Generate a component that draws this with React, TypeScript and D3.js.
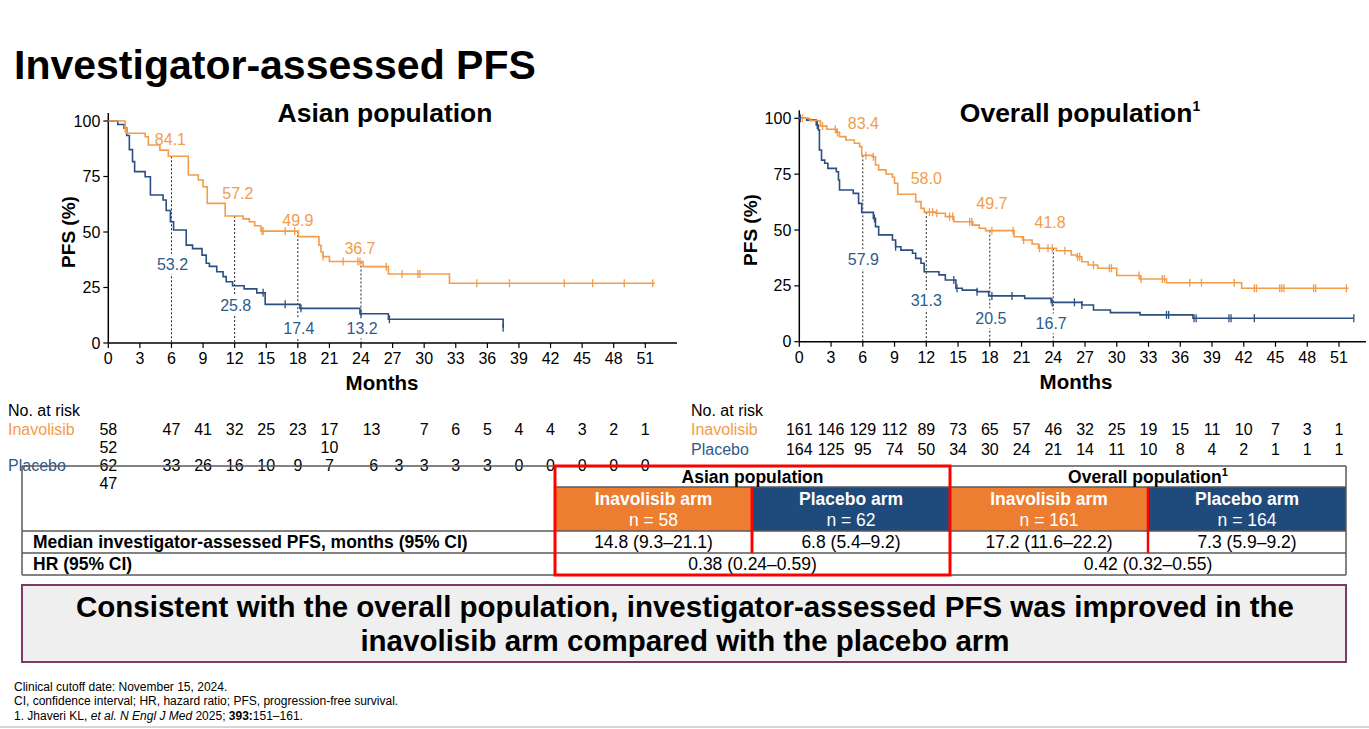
import React from "react";
import * as d3 from "d3";

const FONT = "'Liberation Sans', Arial, Helvetica, sans-serif";
const ORANGE = "#F29C4C";
const BLUE = "#2A4F80";
const BLUE_TXT = "#2F5A8C";
const CELL_ORANGE = "#ED7D31";
const CELL_BLUE = "#1F4A7C";
const RED = "#FF0000";
const GRID = "#5A5A5A";

// ---------- axis ticks ----------
const monthTicks = [0, 3, 6, 9, 12, 15, 18, 21, 24, 27, 30, 33, 36, 39, 42, 45, 48, 51];
const pfsTicks = [0, 25, 50, 75, 100];
const medianTimes = [6, 12, 18, 24];

// ---------- Asian population KM (time in months, PFS %) ----------
const asianInavSteps: [number, number][] = [
  [0, 100], [1.6, 96.6], [1.7, 94.5], [3.5, 92.9], [3.8, 89.2], [4.9, 86.9], [5.7, 84.1],
  [7.6, 75.7], [8.55, 73.4], [9.0, 70.4], [9.4, 62.9], [11.1, 57.2], [12.8, 55.9], [13.4, 54.6],
  [13.9, 52.8], [14.5, 50.4], [18.05, 47.9], [20.0, 44.0], [20.2, 41.0], [20.4, 38.9], [21.0, 36.7],
  [24.2, 34.4], [26.6, 31.1], [32.4, 26.9],
];
const asianInavEnd = 51.9;
const asianInavCensor = [1.6, 14.6, 14.7, 16.8, 17.7, 20.4, 22.3, 23.7, 23.9, 26.4, 27.9, 29.4, 29.6, 35.0, 38.1, 43.3, 46.0, 49.0, 51.7];

const asianPboSteps: [number, number][] = [
  [0, 100], [0.9, 98.4], [1.5, 96.8], [1.75, 93.5], [2.0, 87.1], [2.3, 81.7], [2.5, 77.2], [3.5, 74.9],
  [4.0, 66.7], [5.2, 64.4], [5.5, 59.7], [5.9, 54.6], [6.2, 50.9], [7.4, 44.1], [8.0, 42.5], [8.9, 39.6],
  [9.3, 35.9], [9.6, 34.5], [10.3, 32.1], [10.9, 29.9], [11.2, 27.6], [11.8, 25.8], [12.9, 24.4],
  [14.1, 22.6], [14.9, 17.4], [18.2, 15.6], [23.9, 13.2], [26.6, 10.7], [37.5, 6.9],
];
const asianPboEnd = 37.5;
const asianPboCensor = [14.7, 16.8, 18.3, 24.0, 26.7, 37.5];

// ---------- Overall population KM ----------
const overallInavSteps: [number, number][] = [
  [0, 100], [1.0, 98.9], [2.0, 96.5], [2.6, 95.1], [3.5, 93.7], [3.8, 91.8], [4.4, 90.3], [5.2, 88.8],
  [5.7, 87.3], [5.9, 83.4], [6.9, 82.8], [7.2, 79.1], [7.5, 76.9], [8.2, 75.1], [8.8, 73.6], [9.0, 70.9],
  [9.3, 66.0], [11.0, 62.7], [11.5, 59.7], [11.8, 58.0], [12.9, 57.5], [13.8, 56.0], [14.6, 53.7],
  [16.4, 52.2], [17.0, 50.8], [17.6, 49.7], [20.3, 47.0], [21.1, 45.5], [22.0, 43.7], [22.6, 41.8],
  [24.3, 40.7], [25.7, 38.8], [26.2, 38.0], [26.7, 35.8], [27.3, 34.3], [28.2, 32.9], [30.0, 29.6],
  [32.2, 28.1], [34.7, 26.4], [41.8, 23.9],
];
const overallInavEnd = 51.9;
const overallInavCensor = [0.3, 2.2, 3.4, 3.6, 6.3, 7.0, 12.3, 12.6, 13.0, 14.2, 14.5, 16.1, 16.3, 18.2, 20.2,
  21.2, 22.7, 23.5, 23.9, 25.1, 26.3, 26.5, 27.8, 29.3, 29.5, 32.1, 32.3, 34.3, 34.5, 36.9, 38.0, 41.1,
  43.0, 43.2, 45.4, 45.6, 45.8, 48.6, 48.8, 51.7];

const overallPboSteps: [number, number][] = [
  [0, 100], [0.7, 99.2], [1.6, 97.0], [1.8, 94.8], [1.9, 85.8], [2.1, 81.3], [2.4, 79.9], [2.7, 77.6],
  [3.5, 76.1], [3.7, 72.4], [3.8, 67.9], [5.1, 66.4], [5.6, 61.9], [5.9, 57.9], [7.0, 55.2], [7.2, 51.5],
  [7.5, 47.8], [8.8, 45.5], [9.1, 42.5], [9.6, 41.0], [10.7, 39.6], [11.0, 37.3], [11.5, 35.1],
  [11.8, 31.3], [13.2, 29.9], [13.8, 27.6], [14.8, 23.9], [15.4, 23.1], [16.8, 22.4], [17.9, 20.5],
  [21.3, 19.4], [23.8, 17.6], [26.7, 16.4], [27.8, 14.2], [29.4, 13.0], [32.2, 12.0], [37.2, 10.5],
];
const overallPboEnd = 52.4;
const overallPboCensor = [0.1, 1.7, 7.1, 9.1, 14.6, 14.9, 16.8, 18.2, 20.1, 23.9, 26.0, 26.7, 34.7, 34.9,
  37.3, 37.5, 40.6, 40.8, 43.0, 52.4];

// ---------- landmark labels: [text, month, pfs position] ----------
const asianInavLabels: [string, number, number][] = [["84.1", 5.9, 91.7], ["57.2", 12.3, 67.5], ["49.9", 18.0, 55.4], ["36.7", 23.9, 42.7]];
const asianPboLabels: [string, number, number][] = [["53.2", 6.1, 35.6], ["25.8", 12.1, 17.1], ["17.4", 18.1, 6.6], ["13.2", 24.1, 6.6]];
const overallInavLabels: [string, number, number][] = [["83.4", 6.05, 97.8], ["58.0", 12.0, 73.1], ["49.7", 18.2, 62.0], ["41.8", 23.7, 53.2]];
const overallPboLabels: [string, number, number][] = [["57.9", 6.05, 36.9], ["31.3", 12.0, 18.7], ["20.5", 18.1, 10.5], ["16.7", 23.8, 8.2]];

// ---------- numbers at risk ----------
const asianRiskInavTimes = [0, 6, 9, 12, 15, 18, 21, 25, 30, 33, 36, 39, 42, 45, 48, 51];
const asianRiskInav = ["58", "47", "41", "32", "25", "23", "17", "13", "7", "6", "5", "4", "4", "3", "2", "1"];
const asianRiskInavExtraTimes = [0, 21];
const asianRiskInavExtra = ["52", "10"];
const asianRiskPboTimes = [0, 6, 9, 12, 15, 18, 21, 25.2, 27.6, 30, 33, 36, 39, 42, 45, 48, 51];
const asianRiskPbo = ["62", "33", "26", "16", "10", "9", "7", "6", "3", "3", "3", "3", "0", "0", "0", "0", "0"];
const asianRiskPboExtraTimes = [0];
const asianRiskPboExtra = ["47"];
const overallRiskInav = ["161", "146", "129", "112", "89", "73", "65", "57", "46", "32", "25", "19", "15", "11", "10", "7", "3", "1"];
const overallRiskPbo = ["164", "125", "95", "74", "50", "34", "30", "24", "21", "14", "11", "10", "8", "4", "2", "1", "1", "1"];

// ---------- table ----------
const popHeaders = ["Asian population", "Overall population"];
const armNames = ["Inavolisib arm", "Placebo arm", "Inavolisib arm", "Placebo arm"];
const armN = ["n = 58", "n = 62", "n = 161", "n = 164"];
const medianPFS = ["14.8 (9.3–21.1)", "6.8 (5.4–9.2)", "17.2 (11.6–22.2)", "7.3 (5.9–9.2)"];
const hrValues = ["0.38 (0.24–0.59)", "0.42 (0.32–0.55)"];

function survAt(steps: [number, number][], t: number) {
  let v = steps[0][1];
  for (const [st, sv] of steps) {
    if (st <= t) v = sv;
    else break;
  }
  return v;
}

type KMProps = {
  title: React.ReactNode;
  titleX: number;
  xRange: [number, number];
  axisEnd: number;
  yRange: [number, number];
  yLabelX: number;
  monthsX: number;
  inav: [number, number][];
  inavEnd: number;
  inavCensor: number[];
  pbo: [number, number][];
  pboEnd: number;
  pboCensor: number[];
  inavLabels: [string, number, number][];
  pboLabels: [string, number, number][];
};

function KM(p: KMProps) {
  const x = d3.scaleLinear().domain([0, 51]).range(p.xRange);
  const y = d3.scaleLinear().domain([0, 100]).range(p.yRange);
  const line = d3
    .line<[number, number]>()
    .x((d) => x(d[0]))
    .y((d) => y(d[1]))
    .curve(d3.curveStepAfter);
  const inavPts = [...p.inav, [p.inavEnd, p.inav[p.inav.length - 1][1]] as [number, number]];
  const pboPts = [...p.pbo, [p.pboEnd, p.pbo[p.pbo.length - 1][1]] as [number, number]];
  const x0 = p.xRange[0];
  const yb = y(0);
  const midY = (y(0) + y(100)) / 2;
  return (
    <g>
      <text x={p.titleX} y={122} textAnchor="middle" fontSize={26.5} fontWeight="bold" fontFamily={FONT}>
        {p.title}
      </text>
      {medianTimes.map((t) => (
        <line key={"d" + t} x1={x(t)} x2={x(t)} y1={y(survAt(p.inav, t))} y2={yb} stroke="#222" strokeWidth={1} strokeDasharray="2,2" />
      ))}
      {p.pboLabels.map(([s, t, v]) => (
        <rect key={"bg" + s} x={x(t) - 18} y={y(v) - 10} width={36} height={20} fill="#fff" />
      ))}
      <line x1={x0} x2={x0} y1={y(100) - 8} y2={yb} stroke="#000" strokeWidth={1.5} />
      <line x1={x0} x2={p.axisEnd} y1={yb} y2={yb} stroke="#000" strokeWidth={1.5} />
      {pfsTicks.map((v) => (
        <g key={"yt" + v}>
          <line x1={x0 - 5} x2={x0} y1={y(v)} y2={y(v)} stroke="#000" strokeWidth={1.2} />
          <text x={x0 - 8} y={y(v)} dy="0.35em" textAnchor="end" fontSize={16} fontFamily={FONT}>
            {v}
          </text>
        </g>
      ))}
      {monthTicks.map((m) => (
        <g key={"xt" + m}>
          <line x1={x(m)} x2={x(m)} y1={yb} y2={yb + 5} stroke="#000" strokeWidth={1.2} />
          <text x={x(m)} y={yb + 21} textAnchor="middle" fontSize={16} fontFamily={FONT}>
            {m}
          </text>
        </g>
      ))}
      <text
        transform={`translate(${p.yLabelX},${midY}) rotate(-90)`}
        textAnchor="middle"
        dy="0.35em"
        fontSize={19}
        fontWeight="bold"
        fontFamily={FONT}
      >
        PFS (%)
      </text>
      <text x={p.monthsX} y={yb + 47} textAnchor="middle" fontSize={20.5} fontWeight="bold" fontFamily={FONT}>
        Months
      </text>
      <path d={line(pboPts) || ""} fill="none" stroke={BLUE} strokeWidth={1.6} />
      <path d={line(inavPts) || ""} fill="none" stroke={ORANGE} strokeWidth={1.6} />
      {p.pboCensor.map((t, i) => (
        <line key={"pc" + i} x1={x(t)} x2={x(t)} y1={y(survAt(p.pbo, t)) - 4} y2={y(survAt(p.pbo, t)) + 4} stroke={BLUE} strokeWidth={1.3} />
      ))}
      {p.inavCensor.map((t, i) => (
        <line key={"ic" + i} x1={x(t)} x2={x(t)} y1={y(survAt(p.inav, t)) - 4} y2={y(survAt(p.inav, t)) + 4} stroke={ORANGE} strokeWidth={1.3} />
      ))}
      {p.inavLabels.map(([s, t, v]) => (
        <text key={"il" + s} x={x(t)} y={y(v)} dy="0.35em" textAnchor="middle" fontSize={16} fill={ORANGE} fontFamily={FONT}>
          {s}
        </text>
      ))}
      {p.pboLabels.map(([s, t, v]) => (
        <text key={"pl" + s} x={x(t)} y={y(v)} dy="0.35em" textAnchor="middle" fontSize={16} fill={BLUE_TXT} fontFamily={FONT}>
          {s}
        </text>
      ))}
    </g>
  );
}

export default function App() {
  const xL = d3.scaleLinear().domain([0, 51]).range([108.3, 645.3]);
  const xR = d3.scaleLinear().domain([0, 51]).range([799.3, 1339]);

  const tL = 22, tR = 1346, c1 = 555, c2 = 752, c3 = 950, c4 = 1148;
  const r0 = 466, r1 = 487, r2 = 531, r3 = 553, r4 = 575;
  const armCols: [number, number][] = [[c1, c2], [c2, c3], [c3, c4], [c4, tR]];
  const popCols: [number, number][] = [[c1, c3], [c3, tR]];
  const TF = 17.5;

  return (
    <svg width={1369} height={729} style={{ position: "absolute", left: 0, top: 0, background: "#fff" }} fontFamily={FONT}>
      <rect x={0} y={0} width={1369} height={729} fill="#fff" />
      <text x={14} y={79} fontSize={41} fontWeight="bold">
        Investigator-assessed PFS
      </text>

      <KM
        title="Asian population"
        titleX={385}
        xRange={[108.3, 645.3]}
        axisEnd={677}
        yRange={[343, 121]}
        yLabelX={68}
        monthsX={382}
        inav={asianInavSteps}
        inavEnd={asianInavEnd}
        inavCensor={asianInavCensor}
        pbo={asianPboSteps}
        pboEnd={asianPboEnd}
        pboCensor={asianPboCensor}
        inavLabels={asianInavLabels}
        pboLabels={asianPboLabels}
      />
      <KM
        title={
          <>
            Overall population
            <tspan fontSize={14} dy={-11}>1</tspan>
          </>
        }
        titleX={1080}
        xRange={[799.3, 1339]}
        axisEnd={1366}
        yRange={[341.7, 118.3]}
        yLabelX={750}
        monthsX={1076}
        inav={overallInavSteps}
        inavEnd={overallInavEnd}
        inavCensor={overallInavCensor}
        pbo={overallPboSteps}
        pboEnd={overallPboEnd}
        pboCensor={overallPboCensor}
        inavLabels={overallInavLabels}
        pboLabels={overallPboLabels}
      />

      {/* numbers at risk */}
      <g fontSize={16}>
        <text x={8} y={416}>No. at risk</text>
        <text x={8} y={435} fill={ORANGE}>Inavolisib</text>
        <text x={8} y={471} fill={BLUE_TXT}>Placebo</text>
        {asianRiskInav.map((v, i) => (
          <text key={"ari" + i} x={xL(asianRiskInavTimes[i])} y={435} textAnchor="middle">{v}</text>
        ))}
        {asianRiskInavExtra.map((v, i) => (
          <text key={"arie" + i} x={xL(asianRiskInavExtraTimes[i])} y={453} textAnchor="middle">{v}</text>
        ))}
        {asianRiskPbo.map((v, i) => (
          <text key={"arp" + i} x={xL(asianRiskPboTimes[i])} y={471} textAnchor="middle">{v}</text>
        ))}
        {asianRiskPboExtra.map((v, i) => (
          <text key={"arpe" + i} x={xL(asianRiskPboExtraTimes[i])} y={489} textAnchor="middle">{v}</text>
        ))}
        <text x={691} y={416}>No. at risk</text>
        <text x={691} y={435} fill={ORANGE}>Inavolisib</text>
        <text x={691} y={455} fill={BLUE_TXT}>Placebo</text>
        {overallRiskInav.map((v, i) => (
          <text key={"ori" + i} x={xR(monthTicks[i])} y={435} textAnchor="middle">{v}</text>
        ))}
        {overallRiskPbo.map((v, i) => (
          <text key={"orp" + i} x={xR(monthTicks[i])} y={455} textAnchor="middle">{v}</text>
        ))}
      </g>

      {/* summary table */}
      <g>
        {armCols.map(([a, b], i) => (
          <rect key={"cell" + i} x={a} y={r1} width={b - a} height={r2 - r1} fill={i % 2 === 0 ? CELL_ORANGE : CELL_BLUE} />
        ))}
        <g stroke={GRID} strokeWidth={1.5}>
          <line x1={tL} x2={tR} y1={r0} y2={r0} />
          <line x1={c1} x2={tR} y1={r1} y2={r1} />
          <line x1={tL} x2={tR} y1={r2} y2={r2} />
          <line x1={tL} x2={tR} y1={r3} y2={r3} />
          <line x1={tL} x2={tR} y1={r4} y2={r4} />
          <line x1={tL} x2={tL} y1={r0} y2={r4} />
          <line x1={tR} x2={tR} y1={r0} y2={r4} />
          <line x1={c1} x2={c1} y1={r0} y2={r4} />
          <line x1={c3} x2={c3} y1={r0} y2={r4} />
        </g>
        <line x1={c4} x2={c4} y1={r1} y2={r3} stroke={RED} strokeWidth={2.5} />
        <line x1={c2} x2={c2} y1={r1} y2={r3} stroke={RED} strokeWidth={3} />
        {popCols.map(([a, b], i) => (
          <text key={"pop" + i} x={(a + b) / 2} y={r0 + 17} textAnchor="middle" fontSize={TF} fontWeight="bold">
            {popHeaders[i]}
            {i === 1 ? <tspan fontSize={11} dy={-7}>1</tspan> : null}
          </text>
        ))}
        {armCols.map(([a, b], i) => (
          <g key={"arm" + i}>
            <text x={(a + b) / 2} y={r1 + 18} textAnchor="middle" fontSize={TF} fontWeight="bold" fill="#fff">
              {armNames[i]}
            </text>
            <text x={(a + b) / 2} y={r1 + 39} textAnchor="middle" fontSize={TF} fill="#fff">
              {armN[i]}
            </text>
            <text x={(a + b) / 2} y={r2 + 17} textAnchor="middle" fontSize={TF}>
              {medianPFS[i]}
            </text>
          </g>
        ))}
        {popCols.map(([a, b], i) => (
          <text key={"hr" + i} x={(a + b) / 2} y={r3 + 17} textAnchor="middle" fontSize={TF}>
            {hrValues[i]}
          </text>
        ))}
        <text x={33} y={r2 + 17} fontSize={TF} fontWeight="bold">
          Median investigator-assessed PFS, months (95% CI)
        </text>
        <text x={33} y={r3 + 17} fontSize={TF} fontWeight="bold">
          HR (95% CI)
        </text>
        <rect x={c1} y={r0} width={c3 - c1} height={r4 - r0} fill="none" stroke={RED} strokeWidth={3} />
      </g>

      {/* conclusion box */}
      <rect x={22} y={585} width={1324} height={77} fill="#EFEFEF" stroke="#7B3A6B" strokeWidth={2} />
      <text x={685} y={617} textAnchor="middle" fontSize={29.5} fontWeight="bold">
        Consistent with the overall population, investigator-assessed PFS was improved in the
      </text>
      <text x={685} y={651} textAnchor="middle" fontSize={29.5} fontWeight="bold">
        inavolisib arm compared with the placebo arm
      </text>

      {/* footnotes */}
      <g fontSize={12}>
        <text x={14} y={691}>Clinical cutoff date: November 15, 2024.</text>
        <text x={14} y={705}>CI, confidence interval; HR, hazard ratio; PFS, progression-free survival.</text>
        <text x={14} y={720}>
          1. Jhaveri KL, <tspan fontStyle="italic">et al. N Engl J Med</tspan> 2025; <tspan fontWeight="bold">393:</tspan>151–161.
        </text>
      </g>
      <line x1={0} x2={1369} y1={727} y2={727} stroke="#C8C8C8" strokeWidth={1.5} />
    </svg>
  );
}
